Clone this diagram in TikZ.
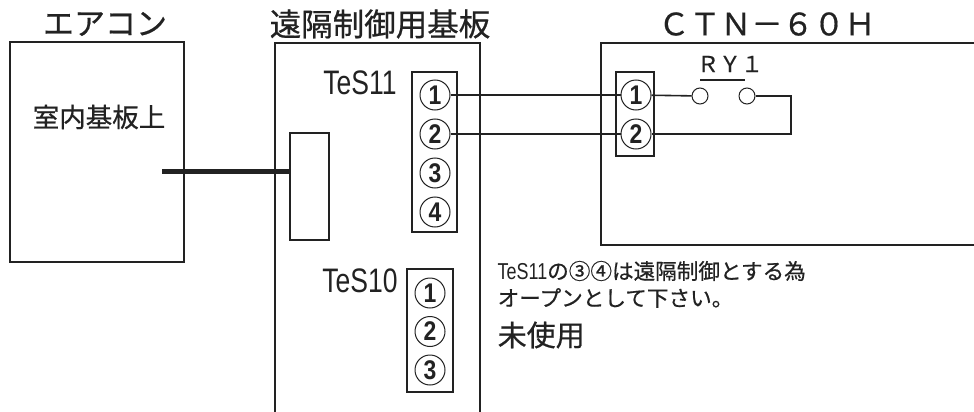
\documentclass[tikz,border=0pt]{standalone}
\usepackage{fontspec}
\usepackage{xcolor}
\usepackage{tikz}
\usetikzlibrary{positioning}
\setmainfont{Liberation Sans}
\newfontfamily\jpfont[FakeBold=0.6]{Noto Sans CJK JP}
\newfontfamily\narrowfont[FakeStretch=0.78]{Liberation Sans}
\newfontfamily\pinfont[FakeStretch=0.85,BoldFont={Liberation Sans Bold}]{Liberation Sans}
\definecolor{inkline}{HTML}{222222}

\begin{document}
\begin{tikzpicture}[x=1pt, y=-1pt, node distance=8pt, line width=1.4pt, draw=inkline, text=inkline]
    % Define styles
    \tikzstyle{box} = [rectangle, draw, line width=1.6pt, inner sep=0pt]
    \tikzstyle{pin} = [circle, draw, line width=1pt, minimum size=30pt, inner sep=0pt, font=\pinfont\bfseries\fontsize{27}{27}\selectfont]
    \tikzstyle{contact} = [circle, draw, line width=1pt, minimum size=16pt, inner sep=0pt]
    \tikzstyle{title} = [inner sep=0pt, font=\jpfont\fontsize{31}{31}\selectfont]
    \tikzstyle{tes} = [inner sep=0pt, font=\narrowfont\fontsize{34}{34}\selectfont]
    \tikzstyle{note} = [inner sep=0pt, anchor=west, font=\jpfont\fontsize{21.6}{21.6}\selectfont]
    \tikzstyle{line} = [draw, line width=1.6pt]
    \useasboundingbox [fill=white] (0,0) rectangle (974,412);

    % Outer boxes
    \node [box, minimum width=174pt, minimum height=220pt] (aircon) at (97,152) {};
    \draw [box] (275,412) -- (275,43) -- (480,43) -- (480,412);
    \draw [box] (974,43) -- (601,43) -- (601,245) -- (974,245);

    % Titles
    \node [title] (aircon_title) at (105,24) {エアコン};
    \node [title, font=\jpfont\fontsize{31.5}{31.5}\selectfont] (board_title) at (380,24) {遠隔制御用基板};
    \node [title] (ctn_title) at (767,24) {ＣＴＮ－６０Ｈ};
    \node [title, font=\jpfont\fontsize{26.5}{26.5}\selectfont] at (99,117) (indoor) {室内基板上};

    % Terminal strips
    \node [box, minimum width=45pt, minimum height=160pt] (strip_a) at (434.5,152) {};
    \node [box, minimum width=46pt, minimum height=123pt] (strip_b) at (430,330.5) {};
    \node [box, minimum width=38pt, minimum height=84pt] (strip_c) at (635,114) {};
    \node [box, minimum width=39pt, minimum height=107pt] (socket) at (309.5,186.5) {};

    % Pins of TeS11
    \node [pin] (a1) at (435,95) {1};
    \node [pin, below=8pt of a1] (a2) {2};
    \node [pin, below=8pt of a2] (a3) {3};
    \node [pin, below=8pt of a3] (a4) {4};

    % Pins of TeS10
    \node [pin] (b1) at (430,293) {1};
    \node [pin, below=7.5pt of b1] (b2) {2};
    \node [pin, below=7.5pt of b2] (b3) {3};

    % Pins of CTN-60H
    \node [pin] (c1) at (636,95) {1};
    \node [pin, below=8pt of c1] (c2) {2};

    % Relay contact
    \node [contact] (ry_l) at (700,96) {};
    \node [contact, right=30pt of ry_l] (ry_r) {};
    \coordinate (ry_bar_l) at (700,80);
    \coordinate (ry_bar_r) at (745,80);
    \coordinate (ry_turn) at (791,96);
    \node [title, font=\jpfont\fontsize{22}{22}\selectfont] (ry_label) at (730,64) {ＲＹ１};

    % Labels
    \node [tes] (tes11) at (360,83) {TeS11};
    \node [tes] (tes10) at (360,281) {TeS10};
    \node [note] (note_a) at (497,271) {{\narrowfont\fontsize{23}{23}\selectfont TeS11}の③④は遠隔制御とする為};
    \node [note] (note_b) at (497,298) {オープンとして下さい。};
    \node [note, font=\jpfont\fontsize{29}{29}\selectfont] (unused) at (497,335) {未使用};

    % Wires
    \coordinate (wire_start) at (162,171);
    \draw [line, line width=5pt] (wire_start) -- (wire_start -| socket.west);
    \draw [line] (a1) -- (c1);
    \draw [line] (a2) -- (c2);
    \draw [line] (c1) -- (ry_l);
    \draw [line] (ry_r) -- (ry_turn) -- (ry_turn |- c2) -- (c2);
    \draw [line] (ry_bar_l) -- (ry_bar_r);
\end{tikzpicture}
\end{document}
